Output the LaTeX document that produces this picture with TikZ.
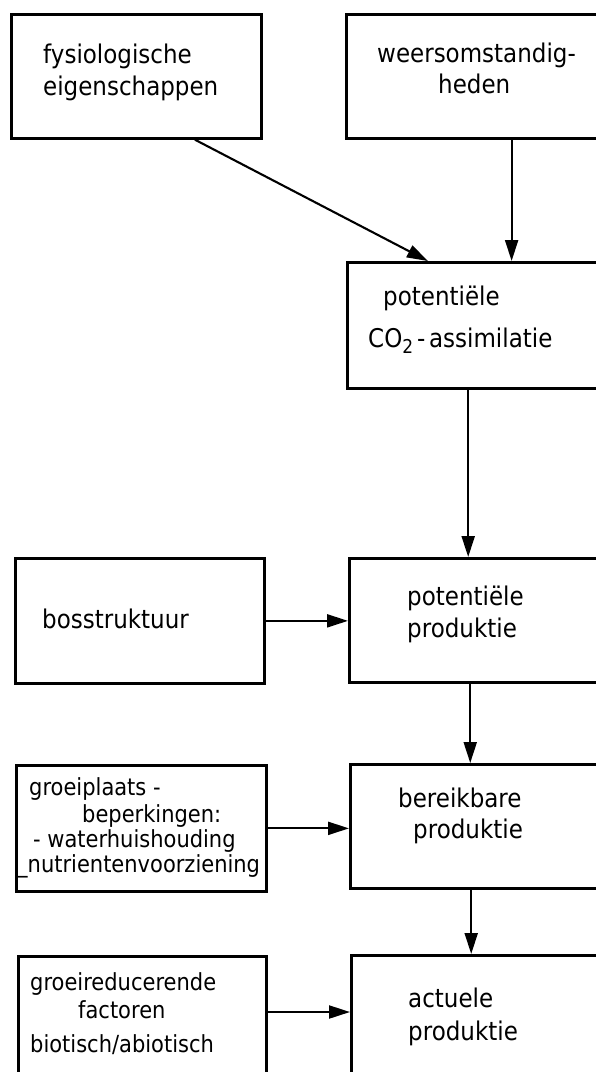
\documentclass[tikz,border=0pt]{standalone}
\usepackage{fontspec}
\setmainfont{DejaVu Sans}
\usetikzlibrary{arrows.meta,calc}
\newcommand{\subtwo}{\raisebox{-6pt}{\fontsize{17}{17}\selectfont 2}}
\newcommand{\tall}[1]{\scalebox{1}[1.12]{#1}}
\begin{document}
\begin{tikzpicture}[x=1pt,y=-1pt,
  box/.style={draw, line width=2.7pt, rectangle, inner sep=0pt, anchor=north west},
  arr/.style={line width=2.1pt, -{Triangle[length=21pt,width=13pt]}},
  lbl/.style={anchor=base west, inner sep=0pt, font=\fontsize{23}{27}\selectfont},
  lbls/.style={anchor=base west, inner sep=0pt, font=\fontsize{21}{25}\selectfont}]
\useasboundingbox (0,0) rectangle (596,1072);
\clip (0,0) rectangle (596,1072);
% boxes
\node[box, minimum width=250pt, minimum height=124pt] (b1) at (10,13) {};
\node[box, minimum width=275pt, minimum height=124pt] (b2) at (345,13) {};
\node[box, minimum width=274pt, minimum height=126pt] (b3) at (346,261) {};
\node[box, minimum width=249pt, minimum height=125pt] (b4) at (14,557) {};
\node[box, minimum width=272pt, minimum height=124pt] (b5) at (348,557) {};
\node[box, minimum width=250pt, minimum height=126pt] (b6) at (15,764) {};
\node[box, minimum width=271pt, minimum height=124pt] (b7) at (349,763) {};
\node[box, minimum width=248pt, minimum height=145pt] (b8) at (17,955) {};
\node[box, minimum width=270pt, minimum height=146pt] (b9) at (350,954) {};
% labels
\node[lbl] (t1a) at (43,63) {\tall{fysiologische}};
\node[lbl] (t1b) at (43,95) {\tall{eigenschappen}};
\node[lbl] (t2a) at (377,62) {\tall{weersomstandig-}};
\node[lbl] (t2b) at (438,93) {\tall{heden}};
\node[lbl] (t3a) at (383,305) {\tall{potentiële}};
\node[lbl] (t3b) at (368,347) {\tall{CO\subtwo\,-\,assimilatie}};
\node[lbl] (t4a) at (42,628) {\tall{bosstruktuur}};
\node[lbl] (t5a) at (407,605) {\tall{potentiële}};
\node[lbl] (t5b) at (407,637) {\tall{produktie}};
\node[lbls] (t6a) at (29,795) {\tall{groeiplaats -}};
\node[lbls] (t6b) at (82,822) {\tall{beperkingen:}};
\node[lbls] (t6c) at (33,847) {\tall{- waterhuishouding}};
\node[lbls] (t6d) at (17,872) {\tall{\_nutrientenvoorziening}};
\node[lbl] (t7a) at (398,807) {\tall{bereikbare}};
\node[lbl] (t7b) at (413,838) {\tall{produktie}};
\node[lbls] (t8a) at (30,990) {\tall{groeireducerende}};
\node[lbls] (t8b) at (78,1018) {\tall{factoren}};
\node[lbls] (t8c) at (30,1052) {\tall{biotisch/abiotisch}};
\node[lbl] (t9a) at (408,1007) {\tall{actuele}};
\node[lbl] (t9b) at (408,1040) {\tall{produktie}};
% connectors
\draw[arr] ($(b1.south west)!0.732!(b1.south east)$) -- ($(b3.north west)!0.296!(b3.north east)$);
\coordinate (p2) at ($(b2.south west)!0.6!(b2.south east)$);
\draw[arr] (p2) -- (p2 |- b3.north);
\coordinate (p3) at ($(b3.south west)!0.4416!(b3.south east)$);
\draw[arr] (p3) -- (p3 |- b5.north);
\draw[arr] (b4.east) -- (b4.east -| b5.west);
\coordinate (p5) at ($(b5.south west)!0.445!(b5.south east)$);
\draw[arr] (p5) -- (p5 |- b7.north);
\draw[arr] (b6.east) -- (b6.east -| b7.west);
\coordinate (p7) at ($(b7.south west)!0.4465!(b7.south east)$);
\draw[arr] (p7) -- (p7 |- b9.north);
\coordinate (p8) at ([yshift=-57pt]b8.north east);
\draw[arr] (p8) -- (p8 -| b9.west);
\end{tikzpicture}
\end{document}
